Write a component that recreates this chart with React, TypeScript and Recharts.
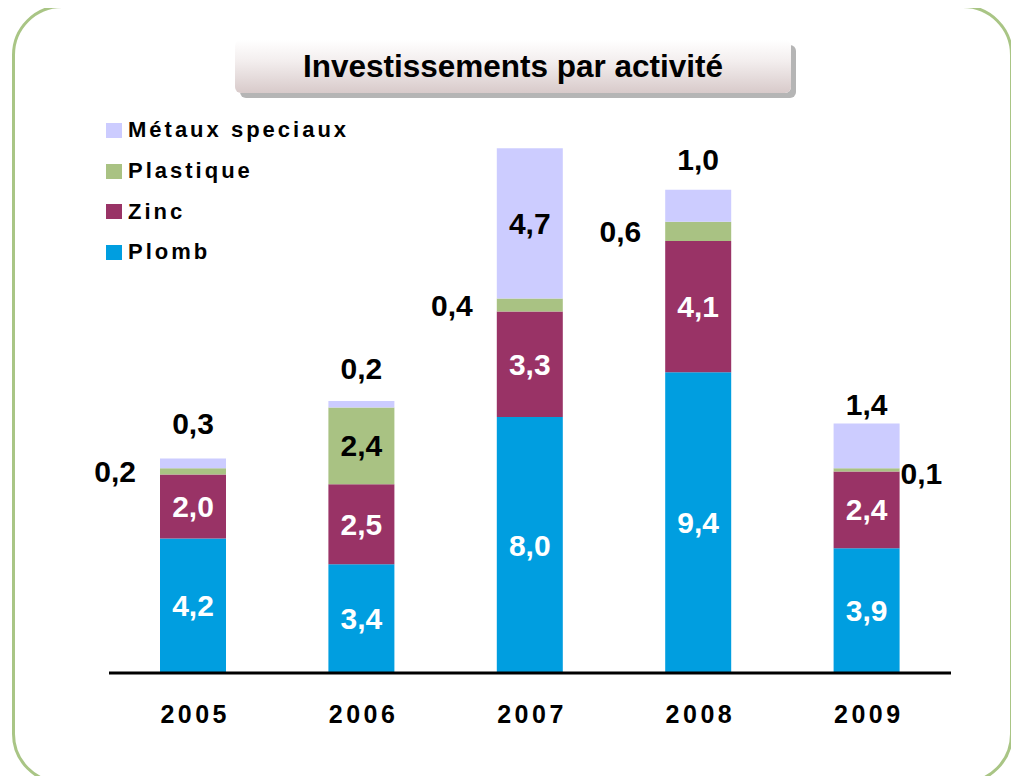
import React from "react";
import { Bar, BarChart, LabelList, XAxis, YAxis } from "recharts";

const years = ["2005", "2006", "2007", "2008", "2009"];
const plomb = [4.2, 3.4, 8.0, 9.4, 3.9];
const zinc = [2.0, 2.5, 3.3, 4.1, 2.4];
const plastique = [0.2, 2.4, 0.4, 0.6, 0.1];
const metaux = [0.3, 0.2, 4.7, 1.0, 1.4];

const legendItems = [
  { name: "Métaux speciaux", color: "#ccccff" },
  { name: "Plastique", color: "#a9c283" },
  { name: "Zinc", color: "#993366" },
  { name: "Plomb", color: "#009ee0" },
];

const FONT = "Arial, 'Liberation Sans', sans-serif";

const data = years.map((year, i) => ({
  year,
  plomb: plomb[i],
  zinc: zinc[i],
  plastique: plastique[i],
  metaux: metaux[i],
}));

const fmt = (v: number) => v.toFixed(1).replace(".", ",");

// gap between the bar top and the outside label, per year
const topGap = [35, 33, 30, 30, 19];

function YearTick(props: any) {
  const { x, y, payload } = props;
  return (
    <text
      x={x + 2}
      y={y + 42}
      textAnchor="middle"
      fontFamily={FONT}
      fontWeight="bold"
      fontSize={25}
      letterSpacing={3.5}
      fill="#000"
    >
      {payload.value}
    </text>
  );
}

function labelText(x: number, y: number, text: string, fill: string, anchor = "middle") {
  return (
    <text
      x={x}
      y={y}
      textAnchor={anchor}
      dominantBaseline="central"
      fontFamily={FONT}
      fontWeight="bold"
      fontSize={30}
      fill={fill}
    >
      {text}
    </text>
  );
}

const insideLabel = (values: number[], fill: string) => (props: any) => {
  const { x, y, width, height, index } = props;
  return labelText(x + width / 2, y + height / 2, fmt(values[index]), fill);
};

const plastiqueLabel = (props: any) => {
  const { x, y, width, height, index } = props;
  const v = plastique[index];
  const cy = y + height / 2;
  if (v >= 1) return labelText(x + width / 2, cy, fmt(v), "#000");
  if (index === years.length - 1) return labelText(x + width + 1, cy + 4, fmt(v), "#000", "start");
  return labelText(x - 24, cy, fmt(v), "#000", "end");
};

const metauxLabel = (props: any) => {
  const { x, y, width, height, index } = props;
  const v = metaux[index];
  if (v >= 2) return labelText(x + width / 2, y + height / 2, fmt(v), "#000");
  return labelText(x + width / 2, y - topGap[index], fmt(v), "#000");
};

export default function App() {
  return (
    <div style={{ position: "relative", width: 1019, height: 784, fontFamily: FONT, margin: -8, background: "#fff" }}>
      <div
        style={{
          position: "absolute",
          left: 12,
          top: 5,
          width: 995,
          height: 773,
          border: "3px solid #a9c585",
          borderRadius: 50,
          boxSizing: "content-box",
        }}
      />
      <BarChart
        width={1019}
        height={784}
        data={data}
        margin={{ top: 129, right: 68, bottom: 71, left: 109 }}
        style={{ position: "absolute", left: 0, top: 0 }}
      >
        <XAxis
          dataKey="year"
          height={40}
          interval={0}
          tickLine={false}
          axisLine={{ stroke: "#000", strokeWidth: 3 }}
          tick={<YearTick />}
        />
        <YAxis hide domain={[0, 17]} />
        <Bar dataKey="plomb" stackId="a" fill="#009ee0" barSize={66} isAnimationActive={false}>
          <LabelList dataKey="plomb" content={insideLabel(plomb, "#fff")} />
        </Bar>
        <Bar dataKey="zinc" stackId="a" fill="#993366" barSize={66} isAnimationActive={false}>
          <LabelList dataKey="zinc" content={insideLabel(zinc, "#fff")} />
        </Bar>
        <Bar dataKey="plastique" stackId="a" fill="#a9c283" barSize={66} isAnimationActive={false}>
          <LabelList dataKey="plastique" content={plastiqueLabel} />
        </Bar>
        <Bar dataKey="metaux" stackId="a" fill="#ccccff" barSize={66} isAnimationActive={false}>
          <LabelList dataKey="metaux" content={metauxLabel} />
        </Bar>
      </BarChart>

      <div
        style={{
          position: "absolute",
          left: 235,
          top: 40,
          width: 556,
          height: 53,
          borderRadius: 6,
          background: "linear-gradient(to bottom, #ffffff 0%, #f3eeee 40%, #d8caca 100%)",
          boxShadow: "5px 5px 0 #b5b5b5",
          display: "flex",
          alignItems: "center",
          justifyContent: "center",
          fontWeight: "bold",
          fontSize: 31.5,
          color: "#000",
        }}
      >
        Investissements par activité
      </div>

      <div style={{ position: "absolute", left: 106, top: 110 }}>
        {legendItems.map((item) => (
          <div key={item.name} style={{ display: "flex", alignItems: "center", height: 40.7 }}>
            <div style={{ width: 16, height: 15, background: item.color, marginRight: 6 }} />
            <span style={{ fontWeight: "bold", fontSize: 22, letterSpacing: 3, color: "#000" }}>{item.name}</span>
          </div>
        ))}
      </div>
    </div>
  );
}
